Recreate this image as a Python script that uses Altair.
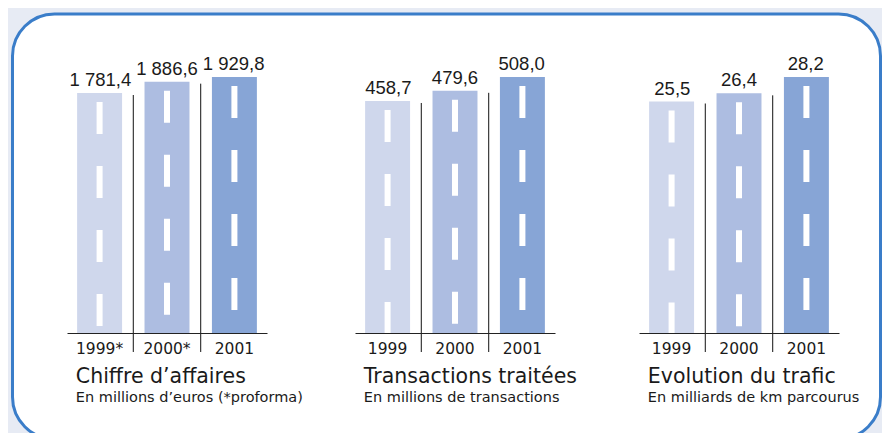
import altair as alt
import pandas as pd

# ---- data -------------------------------------------------------------
years = ["1999", "2000", "2001"]
tick_labels = [["1999*", "2000*", "2001"], ["1999", "2000", "2001"], ["1999", "2000", "2001"]]
chiffre_affaires = [1781.4, 1886.6, 1929.8]      # millions d'euros
transactions = [458.7, 479.6, 508.0]              # millions de transactions
trafic = [25.5, 26.4, 28.2]                       # milliards de km
panel_titles = ["Chiffre d’affaires", "Transactions traitées", "Evolution du trafic"]
panel_subtitles = ["En millions d’euros (*proforma)", "En millions de transactions",
                   "En milliards de km parcourus"]

# ---- layout / styling -------------------------------------------------
bar_colors = ["#cfd7ec", "#adbde1", "#87a5d6"]
y_floor = [-444, -18, 0]            # value at the baseline of each panel
TOTAL_W, TOTAL_H = 874, 425
PANEL_X0 = [59, 347, 631]           # left end of each panel's baseline
PANEL_W = 200
Y_BASE, Y_TOP = 325, 69             # pixel rows of baseline and tallest bar
P_INNER, P_OUTER = 0.333, 0.15
STEP = PANEL_W / (3 - P_INNER + 2 * P_OUTER)
HALF_GAP = STEP * P_INNER / 2
BAR_W = STEP * (1 - P_INNER)
NUM_FONT = "Liberation Sans"
TXT_FONT = "DejaVu Sans"
INK = "#1a1a1a"


def fr(v):
    return f"{v:,.1f}".replace(",", " ").replace(".", ",")


def panel_layers(i, values):
    floor, top = y_floor[i], max(values)
    df = pd.DataFrame({
        "year": years,
        "label": tick_labels[i],
        "value": values,
        "text": [fr(v) for v in values],
    })

    def xs():
        return alt.Scale(domain=tick_labels[i], range=[PANEL_X0[i], PANEL_X0[i] + PANEL_W],
                         paddingInner=P_INNER, paddingOuter=P_OUTER)

    def ys():
        return alt.Scale(domain=[floor, top], range=[Y_BASE, Y_TOP], nice=False, zero=False)

    x_axis = alt.X("label:N", scale=xs(),
                   axis=alt.Axis(title=None, orient="bottom", offset=Y_BASE - TOTAL_H,
                                 ticks=False, domainColor="#222", domainWidth=1, zindex=1,
                                 labelAngle=0, labelFont=TXT_FONT, labelFontSize=15.5,
                                 labelColor=INK, labelPadding=20, labelBaseline="alphabetic"))
    x = alt.X("label:N", scale=xs(), axis=None)
    y = alt.Y("value:Q", scale=ys(), axis=None)
    base = alt.Chart(df)

    bars = base.mark_bar().encode(
        x=x_axis, y=y, y2=alt.datum(floor),
        color=alt.Color("year:N", scale=alt.Scale(domain=years, range=bar_colors), legend=None),
    )
    dashes = base.mark_rule(color="white", strokeWidth=6, strokeDash=[32, 32],
                            strokeDashOffset=55, strokeCap="butt").encode(
        x=x, y=y, y2=alt.datum(floor))
    seps = base.transform_filter(alt.datum.year != years[-1]).mark_rule(
        color="#111", strokeWidth=1, xOffset=HALF_GAP, yOffset=2, y2Offset=19).encode(
        x=alt.X("label:N", scale=xs(), axis=None, bandPosition=1),
        y=alt.Y("value:Q", aggregate="max", scale=ys(), axis=None),
        y2=alt.datum(floor))
    vlabels = base.mark_text(baseline="alphabetic", dy=-7, font=NUM_FONT, fontSize=18.5,
                             color=INK).encode(x=x, y=y, text="text:N")

    tdf = pd.DataFrame({"label": [tick_labels[i][0]], "base": [floor],
                        "ttl": [panel_titles[i]], "sub": [panel_subtitles[i]]})
    tx = alt.X("label:N", scale=xs(), axis=None)
    ty = alt.Y("base:Q", scale=ys(), axis=None)
    title = alt.Chart(tdf).mark_text(align="left", baseline="alphabetic",
                                     dx=-BAR_W / 2 - 2, dy=49.5,
                                     font=TXT_FONT, fontSize=20.5, color=INK).encode(
        x=tx, y=ty, text="ttl:N")
    subtitle = alt.Chart(tdf).mark_text(align="left", baseline="alphabetic",
                                        dx=-BAR_W / 2 - 2, dy=69,
                                        font=TXT_FONT, fontSize=14.5, color=INK).encode(
        x=tx, y=ty, text="sub:N")
    return [bars, dashes, seps, vlabels, title, subtitle]


frame = alt.Chart(pd.DataFrame({"f": [0]})).mark_rect(
    clip=True, fill="white", stroke="#3a7dc9", strokeWidth=3, cornerRadius=42).encode(
    x=alt.value(4.5), x2=alt.value(TOTAL_W - 1.5), y=alt.value(6), y2=alt.value(431))

layers = [frame]
for i, vals in enumerate([chiffre_affaires, transactions, trafic]):
    layers += panel_layers(i, vals)

chart = alt.layer(*layers).resolve_scale(x="independent", y="independent").properties(
    width=TOTAL_W, height=TOTAL_H,
    autosize=alt.AutoSizeParams(type="fit", contains="padding"),
    padding=0,
    background="#e7ebf4",
).configure_view(stroke=None)

chart.save("out.html", embed_options={"renderer": "svg", "actions": False})
